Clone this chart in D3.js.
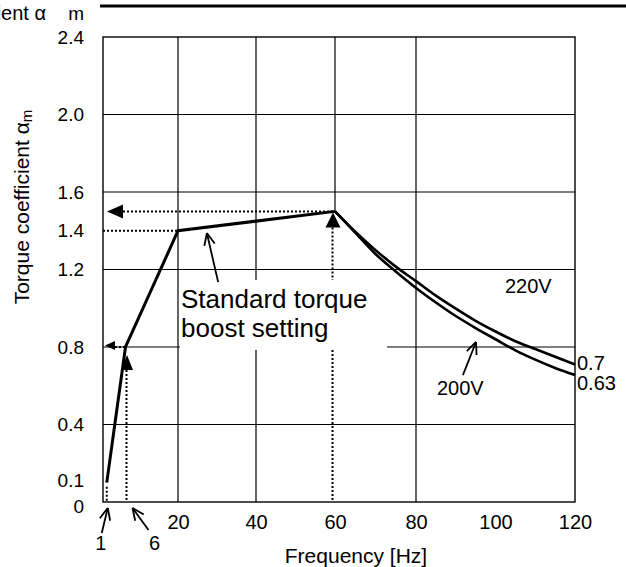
<!DOCTYPE html>
<html><head><meta charset="utf-8">
<script src="https://cdn.jsdelivr.net/npm/d3@7"></script>
<style>
body{margin:0;background:#fff}
svg{display:block}
text{font-family:Arial,"Liberation Sans",sans-serif;fill:#000}
</style>
</head><body>
<svg id="c" width="626" height="567"></svg>
<script>
// ---- data ----
const xTicks = [20, 40, 60, 80, 100, 120];
const xTickLabels = ["20", "40", "60", "80", "100", "120"];
const yTicks = [0, 0.1, 0.4, 0.8, 1.2, 1.4, 1.6, 2.0, 2.4];
const yTickLabels = ["0", "0.1", "0.4", "0.8", "1.2", "1.4", "1.6", "2.0", "2.4"];
const xGrid = [20, 40, 80];
const yGrid = [0.4, 0.8, 1.2, 1.6, 2.0];
const boostFreq = [1, 6, 20, 60];
const boostAlpha = [0.1, 0.8, 1.4, 1.5];
const highFreq = [60, 65, 70, 75, 80, 85, 90, 95, 100, 105, 110, 115, 120];
const alpha220 = [1.5, 1.395, 1.3, 1.215, 1.14, 1.065, 0.998, 0.935, 0.88, 0.83, 0.79, 0.75, 0.71];
const alpha200 = [1.5, 1.39, 1.28, 1.19, 1.105, 1.03, 0.96, 0.898, 0.84, 0.783, 0.735, 0.692, 0.655];
const endLabels = ["0.7", "0.63"];
const markerFreq = [1, 6];
const markerLabels = ["1", "6"];

// ---- scales ----
const x = d3.scaleLinear().domain([0, 20, 40, 60, 80, 120]).range([103, 178, 256, 335, 416, 575]);
const y = d3.scaleLinear().domain([0, 2.4]).range([502, 37]);

const svg = d3.select("#c");

// top strip remnants
svg.append("line").attr("x1", 100).attr("x2", 626).attr("y1", 6).attr("y2", 6)
  .attr("stroke", "#000").attr("stroke-width", 3);
svg.append("text").attr("x", 46).attr("y", 20).attr("text-anchor", "end")
  .attr("font-size", 20).text("Torque coefficient α");
svg.append("text").attr("x", 84).attr("y", 20).attr("text-anchor", "end")
  .attr("font-size", 19).text("m");

const g = svg.append("g");

// grid
g.selectAll(".vg").data(xGrid).join("line")
  .attr("x1", d => x(d)).attr("x2", d => x(d)).attr("y1", y(2.4)).attr("y2", y(0))
  .attr("stroke", "#000").attr("stroke-width", 1.2);
g.append("line").attr("x1", x(60)).attr("x2", x(60)).attr("y1", y(2.4)).attr("y2", y(1.5))
  .attr("stroke", "#000").attr("stroke-width", 1.2);
g.selectAll(".hg").data(yGrid).join("line")
  .attr("x1", x(0)).attr("x2", x(120)).attr("y1", d => y(d)).attr("y2", d => y(d))
  .attr("stroke", "#000").attr("stroke-width", 1.2);
g.append("rect").attr("x", x(0)).attr("y", y(2.4)).attr("width", x(120) - x(0)).attr("height", y(0) - y(2.4))
  .attr("fill", "none").attr("stroke", "#000").attr("stroke-width", 1.4);

// axes (labels only)
const ax = svg.append("g").attr("transform", `translate(0,${y(0)})`)
  .call(d3.axisBottom(x).tickValues(xTicks).tickFormat((d, i) => xTickLabels[i]).tickSize(0).tickPadding(13));
ax.select(".domain").remove();
ax.selectAll("text").attr("font-size", 20).attr("font-family", "Arial, 'Liberation Sans', sans-serif");
const ay = svg.append("g").attr("transform", `translate(${x(0)},0)`)
  .call(d3.axisLeft(y).tickValues(yTicks).tickFormat((d, i) => yTickLabels[i]).tickSize(0).tickPadding(19));
ay.select(".domain").remove();
ay.selectAll("text").attr("font-size", 19).attr("font-family", "Arial, 'Liberation Sans', sans-serif");
// nudge the two crowded labels at the bottom apart
ay.selectAll(".tick").filter(d => d === 0).select("text").attr("y", 4);
ay.selectAll(".tick").filter(d => d === 0.1).select("text").attr("y", -2);

// axis titles
svg.append("text").attr("x", 356).attr("y", 563).attr("text-anchor", "middle")
  .attr("font-size", 21).text("Frequency [Hz]");
const yt = svg.append("text").attr("transform", "translate(29,207) rotate(-90)")
  .attr("text-anchor", "middle").attr("font-size", 21);
yt.append("tspan").text("Torque coefficient α");
yt.append("tspan").attr("font-size", 15).attr("dy", 3).text("m");

// white box behind annotation
svg.append("rect").attr("x", x(20) + 2).attr("y", 280).attr("width", 207).attr("height", 70).attr("fill", "#fff");

// dotted guide lines
const dot = (x1, y1, x2, y2) => svg.append("line").attr("x1", x1).attr("y1", y1).attr("x2", x2).attr("y2", y2)
  .attr("stroke", "#000").attr("stroke-width", 2).attr("stroke-dasharray", "2,2");
dot(x(0) + 20, y(1.5), x(60) - 3, y(1.5));
dot(x(0), y(1.4), x(20), y(1.4));
dot(x(0) + 12, y(0.8), x(6), y(0.8));
dot(x(1), y(0.1) + 4, x(1), y(0));
dot(x(6) + 1, y(0.8) + 23, x(6) + 1, y(0));
dot(x(60) - 2.5, y(1.5) + 16, x(60) - 2.5, 280);
dot(x(60) - 2.5, 350, x(60) - 2.5, y(0));

// curves
const line = d3.line().x(d => x(d[0])).y(d => y(d[1]));
svg.append("path").datum(boostFreq.map((f, i) => [f, boostAlpha[i]]))
  .attr("d", line).attr("fill", "none").attr("stroke", "#000").attr("stroke-width", 3).attr("stroke-linejoin", "miter");
const cline = d3.line().x(d => x(d[0])).y(d => y(d[1])).curve(d3.curveMonotoneX);
[alpha220, alpha200].forEach(arr => {
  svg.append("path").datum(highFreq.map((f, i) => [f, arr[i]]))
    .attr("d", cline).attr("fill", "none").attr("stroke", "#000").attr("stroke-width", 2.6);
});

// filled triangles (pointing up)
const triUp = (cx, ty, hw, h) => svg.append("path")
  .attr("d", `M${cx},${ty}L${cx - hw},${ty + h}L${cx + hw},${ty + h}Z`).attr("fill", "#000");
triUp(x(60) - 2, y(1.5) + 1, 7.5, 15);
triUp(x(6) + 1.5, y(0.8) + 8, 6, 15);
// filled triangles (pointing left)
const triLeft = (tx, cy, len, hh) => svg.append("path")
  .attr("d", `M${tx},${cy}L${tx + len},${cy - hh}L${tx + len},${cy + hh}Z`).attr("fill", "#000");
triLeft(x(0) + 4, y(1.5), 16, 7);
triLeft(x(0) + 2, y(0.8) - 1.5, 10, 4.5);

// open arrows
function arrow(x1, y1, x2, y2, len) {
  svg.append("line").attr("x1", x1).attr("y1", y1).attr("x2", x2).attr("y2", y2)
    .attr("stroke", "#000").attr("stroke-width", 1.8);
  const a = Math.atan2(y1 - y2, x1 - x2);
  [0.42, -0.42].forEach(da => {
    svg.append("line").attr("x1", x2).attr("y1", y2)
      .attr("x2", x2 + len * Math.cos(a + da)).attr("y2", y2 + len * Math.sin(a + da))
      .attr("stroke", "#000").attr("stroke-width", 1.8);
  });
}
arrow(x(30.3), y(1.135), x(27.4), y(1.388), 13);
arrow(x(91.8), y(0.655), x(95.1), y(0.826), 13);
arrow(x(1) - 5, y(0) + 31, x(1) + 1, y(0) + 6, 13);
arrow(x(6) + 23, y(0) + 28, x(6) + 7, y(0) + 6, 13);

// marker labels 1 and 6
svg.selectAll(".ml").data(markerFreq).join("text")
  .attr("x", (d, i) => i === 0 ? x(d) - 6 : x(d) + 29).attr("y", 550).attr("text-anchor", "middle")
  .attr("font-size", 20).text((d, i) => markerLabels[i]);

// annotation text
const ann = svg.append("text").attr("font-size", 26);
ann.append("tspan").attr("x", x(20) + 3).attr("y", 308).text("Standard torque");
ann.append("tspan").attr("x", x(20) + 3).attr("y", 337).text("boost setting");

// voltage labels
svg.append("text").attr("x", 505).attr("y", 293).attr("font-size", 20).text("220V");
svg.append("text").attr("x", 437).attr("y", 395).attr("font-size", 20).text("200V");
svg.append("text").attr("x", x(120) + 2).attr("y", 370).attr("font-size", 20).text(endLabels[0]);
svg.append("text").attr("x", x(120) + 2).attr("y", 390).attr("font-size", 20).text(endLabels[1]);
</script>
</body></html>
